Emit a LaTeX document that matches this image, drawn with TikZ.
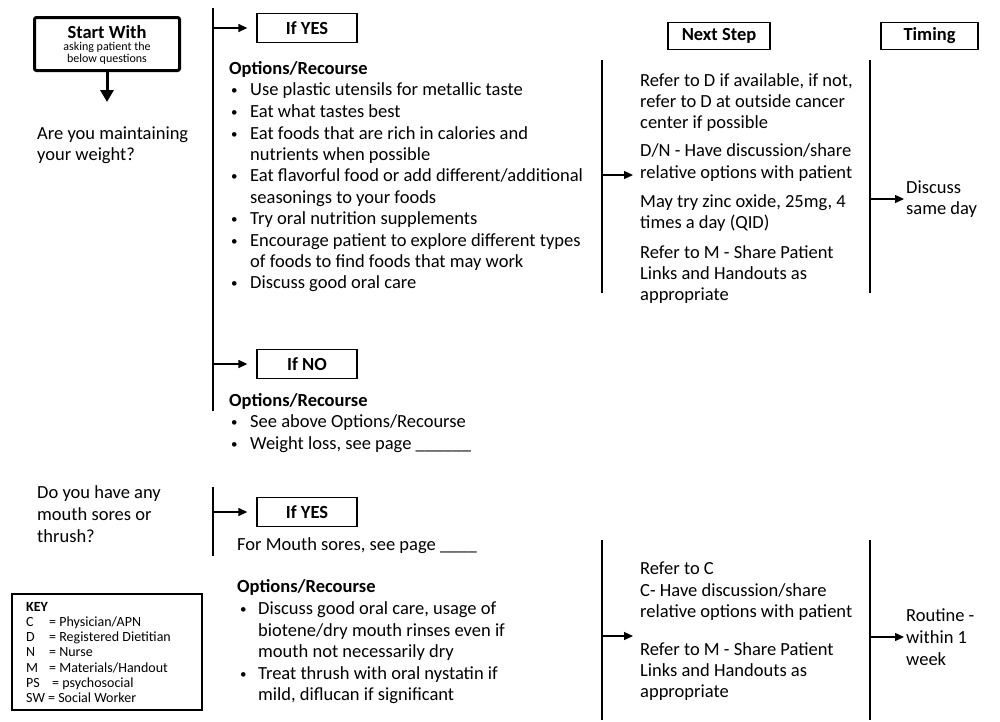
\documentclass[tikz,border=0pt]{standalone}
\usepackage{fontspec}
\setmainfont{Carlito}
\usetikzlibrary{arrows.meta}
\newcommand\bodyfont{\fontsize{18.5}{21.5}\selectfont}
\newcommand\subfont{\fontsize{12}{13}\selectfont}
\newcommand\keyfont{\fontsize{14}{15}\selectfont}
\newcommand\bulfont{\fontsize{13}{14}\selectfont}
\begin{document}
\begin{tikzpicture}[x=1pt,y=-1pt,
 txt/.style={anchor=base west, inner sep=0pt, font=\bodyfont},
 hd/.style={anchor=base west, inner sep=0pt, font=\bodyfont\bfseries},
 keytxt/.style={anchor=base west, inner sep=0pt, font=\keyfont},
 hbox/.style={draw, line width=1.3pt, minimum height=29pt, inner sep=0pt, font=\bodyfont\bfseries},
 vline/.style={line width=1.8pt},
 arr/.style={line width=1.3pt, -{Triangle[length=9pt,width=8pt]}},
 bul/.style={anchor=base west, inner sep=0pt, font=\bulfont}]
\fill[white] (0,0) rectangle (1000,721);
\useasboundingbox (0,0) rectangle (1000,721);

% ---------- start box ----------
\node[draw, line width=3pt, rounded corners=2pt, minimum width=145pt, minimum height=53pt] (start) at (107,44) {};
\node[anchor=base, inner sep=0pt, font=\bodyfont\bfseries] (startT) at (107,38) {Start With};
\node[anchor=base, inner sep=0pt, font=\subfont] (startS1) at (107,50.5) {asking patient the};
\node[anchor=base, inner sep=0pt, font=\subfont] (startS2) at (107,62) {below questions};
\coordinate (startEnd) at (107,102);
\draw[line width=3pt, -{Triangle[length=12pt,width=13pt]}] (start.south) -- (startEnd);

% ---------- question 1 ----------
\node[txt] (q1a) at (37,139) {Are you maintaining};
\node[txt] (q1b) at (37,160) {your weight?};

% ---------- branch line 1 ----------
\coordinate (v1top) at (213,8);
\coordinate (v1bot) at (213,411);
\draw[vline] (v1top) -- (v1bot);

\node[hbox, minimum width=100pt] (yes1) at (307,28) {If YES};
\coordinate (a1) at (213,28);
\draw[arr] (a1) -- ([xshift=-9pt]yes1.west);

\node[hd] (opt1) at (229,74) {Options/Recourse};
\foreach \yy in {89,111,133,175,218,240,282}
  \node[bul] at (231,\yy+5) {•};
\foreach \yy/\tx [count=\i] in {
  89/{Use plastic utensils for metallic taste},
  111/{Eat what tastes best},
  133/{Eat foods that are rich in calories and},
  154/{nutrients when possible},
  175/{Eat flavorful food or add different/additional},
  197/{seasonings to your foods},
  218/{Try oral nutrition supplements},
  240/{Encourage patient to explore different types},
  261/{of foods to find foods that may work},
  282/{Discuss good oral care}}
  \node[txt, name=o1\i] at (250,\yy+6) {\tx};

\node[hbox, minimum width=100pt] (no1) at (307,364) {If NO};
\coordinate (a2) at (213,364);
\draw[arr] (a2) -- ([xshift=-9pt]no1.west);
\node[hd] (opt2) at (229,406) {Options/Recourse};
\node[bul] at (231,426) {•};
\node[bul] at (231,448) {•};
\node[txt] (n1) at (250,427) {See above Options/Recourse};
\node[txt] (n2) at (250,449) {Weight loss, see page \_\_\_\_\_\_};

% ---------- headers ----------
\node[hbox, minimum width=102pt, minimum height=27pt] (next) at (719,36) {Next Step};
\node[hbox, minimum width=97pt, minimum height=27pt] (timing) at (929.5,36) {Timing};

% ---------- next step 1 ----------
\coordinate (v2top) at (602,60);
\coordinate (v2bot) at (602,293);
\draw[vline] (v2top) -- (v2bot);
\coordinate (a3) at (602,175);
\coordinate (a3e) at (633,175);
\draw[arr] (a3) -- (a3e);
\foreach \yy/\tx [count=\i] in {
  80/{Refer to D if available, if not,},
  101/{refer to D at outside cancer},
  122/{center if possible},
  150/{D/N - Have discussion/share},
  172/{relative options with patient},
  201/{May try zinc oxide, 25mg, 4},
  222/{times a day (QID)},
  252/{Refer to M - Share Patient},
  273/{Links and Handouts as},
  294/{appropriate}}
  \node[txt, name=s1\i] at (640,\yy+6) {\tx};

\coordinate (v3top) at (870,60);
\coordinate (v3bot) at (870,293);
\draw[vline] (v3top) -- (v3bot);
\node[txt] (tm1a) at (906,193) {Discuss};
\node[txt] (tm1b) at (906,214) {same day};
\coordinate (a4) at (870,199);
\draw[arr] (a4) -- ([xshift=-2pt]tm1a.west |- a4);

% ---------- question 2 ----------
\node[txt] (q2a) at (37,498) {Do you have any};
\node[txt] (q2b) at (37,520) {mouth sores or};
\node[txt] (q2c) at (37,542) {thrush?};

\coordinate (v4top) at (213,487);
\coordinate (v4bot) at (213,556);
\draw[vline] (v4top) -- (v4bot);
\node[hbox, minimum width=100pt] (yes2) at (307,512) {If YES};
\coordinate (a5) at (213,512);
\draw[arr] (a5) -- ([xshift=-9pt]yes2.west);

\node[txt] (ms) at (237,550) {For Mouth sores, see page \_\_\_\_};
\node[hd] (opt3) at (237,592) {Options/Recourse};
\node[bul] at (240,613) {•};
\node[bul] at (240,678) {•};
\foreach \yy/\tx [count=\i] in {
  608/{Discuss good oral care, usage of},
  630/{biotene/dry mouth rinses even if},
  651/{mouth not necessarily dry},
  673/{Treat thrush with oral nystatin if},
  694/{mild, diflucan if significant}}
  \node[txt, name=o3\i] at (258,\yy+6) {\tx};

% ---------- key ----------
\node[draw, line width=1.3pt, minimum width=190pt, minimum height=116pt, inner sep=0pt] (key) at (107,652) {};
\node[keytxt, font=\keyfont\bfseries] (k0) at (26,611) {KEY};
\node[keytxt] (k1) at (26,626) {\makebox[23pt][l]{C}= Physician/APN};
\node[keytxt] (k2) at (26,641) {\makebox[23pt][l]{D}= Registered Dietitian};
\node[keytxt] (k3) at (26,656) {\makebox[23pt][l]{N}= Nurse};
\node[keytxt] (k4) at (26,672) {\makebox[23pt][l]{M}= Materials/Handout};
\node[keytxt] (k5) at (26,687) {\makebox[26pt][l]{PS}= psychosocial};
\node[keytxt] (k6) at (26,702) {SW = Social Worker};

% ---------- next step 2 ----------
\coordinate (v5top) at (602,540);
\coordinate (v5bot) at (602,720);
\draw[vline] (v5top) -- (v5bot);
\coordinate (a6) at (602,636);
\coordinate (a6e) at (633,636);
\draw[arr] (a6) -- (a6e);
\foreach \yy/\tx [count=\i] in {
  568/{Refer to C},
  590/{C- Have discussion/share},
  611/{relative options with patient},
  649/{Refer to M - Share Patient},
  670/{Links and Handouts as},
  691/{appropriate}}
  \node[txt, name=s2\i] at (640,\yy+6) {\tx};

\coordinate (v6top) at (870,540);
\coordinate (v6bot) at (870,720);
\draw[vline] (v6top) -- (v6bot);
\node[txt] (tm2a) at (906,621) {Routine -};
\node[txt] (tm2b) at (906,643) {within 1};
\node[txt] (tm2c) at (906,665) {week};
\coordinate (a7) at (870,637);
\draw[arr] (a7) -- ([xshift=-2pt]tm2b.west |- a7);
\end{tikzpicture}
\end{document}
